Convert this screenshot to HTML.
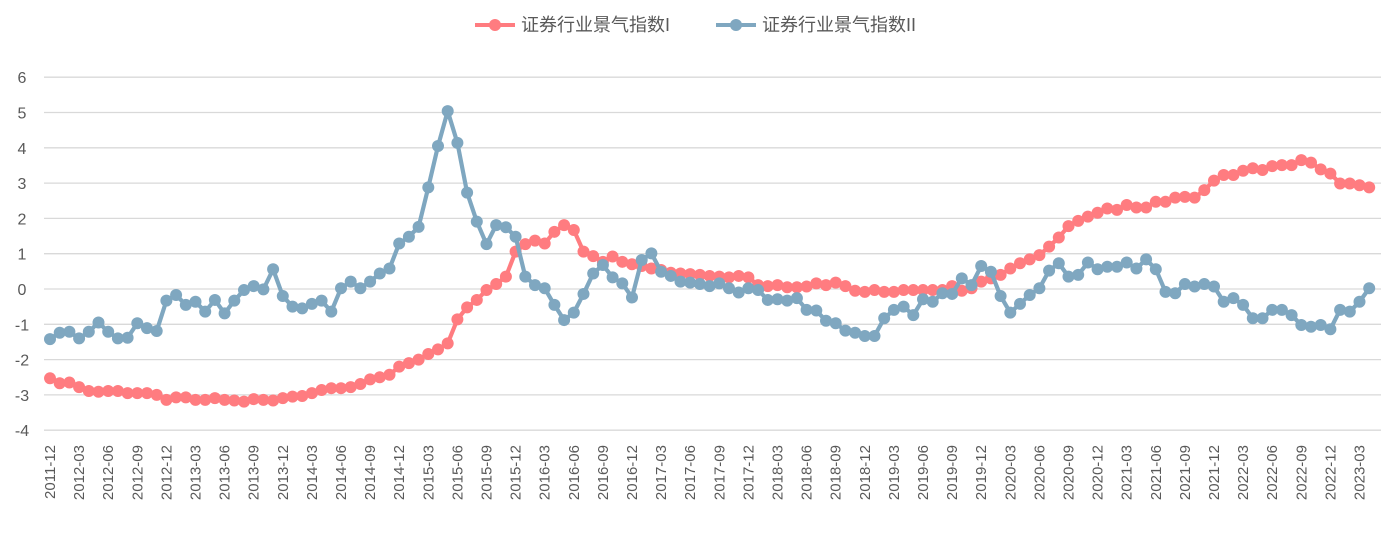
<!DOCTYPE html>
<html><head><meta charset="utf-8"><style>
body{margin:0;background:#fff;}
svg{display:block;font-family:"Liberation Sans","Noto Sans CJK SC",sans-serif;}
</style></head><body>
<svg id="chart" width="1389" height="537" viewBox="0 0 1389 537" xmlns="http://www.w3.org/2000/svg">
<g id="grid"></g>
<g id="yaxis"></g>
<g id="xaxis"></g>
<g id="series"></g>
<g>
  <g>
    <line x1="475" y1="25" x2="515" y2="25" stroke="#FF7C80" stroke-width="4"/>
    <circle cx="495" cy="25" r="6" fill="#FF7C80"/>
    <text x="521" y="31" font-size="18" fill="#595959">证券行业景气指数I</text>
  </g>
  <g>
    <line x1="716" y1="25" x2="756" y2="25" stroke="#7FA7C0" stroke-width="4"/>
    <circle cx="736" cy="25" r="6" fill="#7FA7C0"/>
    <text x="762" y="31" font-size="18" fill="#595959">证券行业景气指数II</text>
  </g>
</g>
</svg>
<script>
const seriesI = [-2.53,-2.67,-2.65,-2.78,-2.89,-2.91,-2.89,-2.89,-2.95,-2.95,-2.95,-3.0,-3.14,-3.07,-3.07,-3.14,-3.14,-3.09,-3.14,-3.16,-3.19,-3.12,-3.14,-3.16,-3.09,-3.05,-3.03,-2.95,-2.86,-2.81,-2.81,-2.78,-2.69,-2.56,-2.5,-2.43,-2.2,-2.1,-2.0,-1.84,-1.71,-1.54,-0.86,-0.52,-0.31,
-0.03,0.14,0.35,1.06,1.27,1.37,1.29,1.62,1.81,1.67,1.06,0.93,0.77,0.92,0.77,0.7,0.65,0.58,0.54,0.46,0.44,0.42,0.4,0.37,0.35,0.33,0.37,0.33,0.11,0.08,0.11,0.05,0.05,0.07,0.16,0.11,0.18,0.08,-0.05,-0.08,-0.03,-0.08,-0.08,
-0.03,-0.03,-0.03,-0.03,-0.03,0.08,-0.05,0.02,0.21,0.3,0.4,0.58,0.73,0.84,0.96,1.2,1.46,1.78,1.93,2.05,2.16,2.28,2.24,2.38,2.31,2.31,2.47,2.47,2.59,2.61,2.59,2.8,3.07,3.23,3.23,3.35,3.42,3.37,3.48,3.51,3.51,3.65,3.58,3.39,3.27,2.99,2.99,2.94,2.88];
const seriesII = [-1.42,-1.24,-1.21,-1.4,-1.21,-0.95,-1.21,-1.4,-1.38,-0.97,-1.11,-1.19,-0.33,-0.17,-0.45,-0.36,-0.64,-0.31,-0.69,-0.33,-0.03,0.08,-0.01,0.56,-0.2,-0.5,-0.55,-0.42,-0.33,-0.64,0.02,0.21,0.02,0.21,0.44,0.58,1.29,1.48,1.76,2.88,4.05,5.04,4.14,2.73,1.91,
1.27,1.81,1.75,1.48,0.35,0.11,0.02,-0.45,-0.88,-0.67,-0.14,0.44,0.68,0.33,0.16,-0.24,0.82,1.01,0.49,0.37,0.21,0.18,0.14,0.08,0.16,0.02,-0.1,0.02,-0.03,-0.31,-0.29,-0.33,-0.26,-0.59,-0.61,-0.9,-0.97,-1.18,-1.24,-1.33,-1.33,-0.83,-0.59,
-0.5,-0.74,-0.29,-0.36,-0.12,-0.14,0.3,0.11,0.65,0.49,-0.2,-0.67,-0.42,-0.17,0.02,0.52,0.73,0.35,0.4,0.75,0.56,0.63,0.63,0.75,0.58,0.84,0.56,-0.08,-0.12,0.14,0.07,0.14,0.07,-0.36,-0.26,-0.45,-0.83,-0.83,-0.59,-0.59,-0.74,-1.02,-1.07,-1.02,-1.14,-0.59,-0.64,-0.36,0.02];
const yTicks = [6,5,4,3,2,1,0,-1,-2,-3,-4];
const startYear = 2011, startMonth = 12;

const NS = "http://www.w3.org/2000/svg";
const X0 = 50, DX = 9.7, Y0 = 289, DY = 35.3;
const xs = i => X0 + DX * i;
const ys = v => Y0 - DY * v;
function mk(tag, attrs, parent){const e=document.createElementNS(NS,tag);for(const k in attrs)e.setAttribute(k,attrs[k]);parent.appendChild(e);return e;}
const grid=document.getElementById('grid'), yax=document.getElementById('yaxis'), xax=document.getElementById('xaxis'), ser=document.getElementById('series');
yTicks.forEach(t=>{
  const l=mk('line',{x1:44,x2:1381,y1:ys(t),y2:ys(t),stroke:'#D9D9D9','stroke-width':1.3},grid);
  
  
  const tx=mk('text',{x:22,y:ys(t)+6,'text-anchor':'middle','font-size':16,fill:'#595959'},yax);
  tx.textContent=t;
  
  
});
const n = seriesI.length;
for(let i=0;i<n;i+=3){
  let m=startMonth-1+i; const yr=startYear+Math.floor(m/12); const mo=m%12+1;
  const label=yr+'-'+(mo<10?'0':'')+mo;
  const x=xs(i)+5;
  const tx=mk('text',{x:x,y:445,transform:`rotate(-90 ${x} 445)`,'text-anchor':'end','font-size':15,fill:'#595959'},xax);
  tx.textContent=label;
  
  
}
function draw(data,color,name){
  const g=mk('g',{},ser);
  
  
  const pts=data.map((v,i)=>xs(i)+','+ys(v)).join(' ');
  const pl=mk('polyline',{points:pts,fill:'none',stroke:color,'stroke-width':4.2,'stroke-linejoin':'round'},g);
  
  
  data.forEach((v,i)=>{
    const c=mk('circle',{cx:xs(i),cy:ys(v),r:6,fill:color},g);
    
    
  });
}
draw(seriesI,'#FF7C80','series-index-1');
draw(seriesII,'#7FA7C0','series-index-2');
</script>
</body></html>
